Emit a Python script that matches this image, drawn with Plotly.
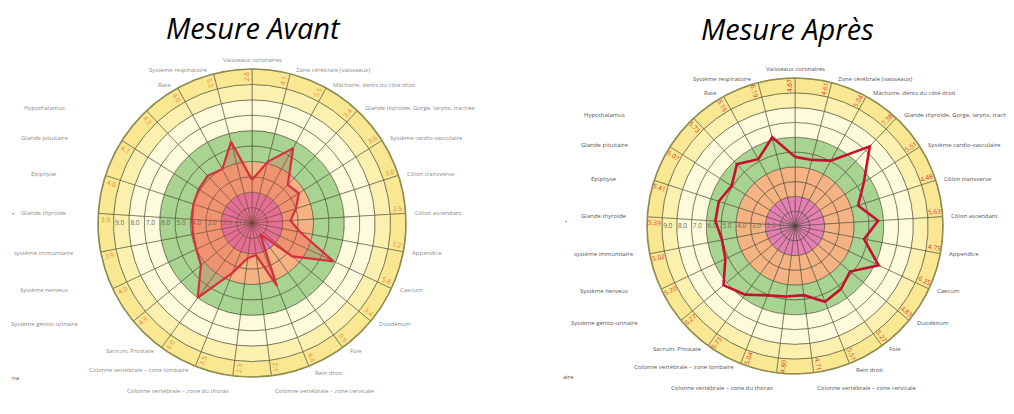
import math
import plotly.graph_objects as go

# page is shown with the browser's default 8px body margin -> figure is 8px smaller
PAGE_W, PAGE_H, OFF = 1014, 414, 8
W, H = PAGE_W - OFF, PAGE_H - OFF

# ---------------- data ----------------
categories = [
    "Vaisseaux coronaires", "Zone cérébrale (vaisseaux)", "Mâchoire, dents du côté droit",
    "Glande thyroïde, Gorge, larynx, trachée", "Système cardio-vasculaire", "Côlon transverse",
    "Côlon ascendant", "Appendice", "Caecum", "Duodénum", "Foie", "Rein droit",
    "Colonne vertébrale – zone cervicale", "Colonne vertébrale – zone du thorax",
    "Colonne vertébrale – zone lombaire", "Sacrum, Prostate", "Système génito-urinaire",
    "Système nerveux", "système immunitaire", "Glande thyroïde", "Épiphyse",
    "Glande pituitaire", "Hypothalamus", "Rate", "Système respiratoire",
]

values_avant = [2.8, 4.1, 5.55, 3.4, 3.6, 3.0, 2.5, 3.2, 5.85, 3.4, 0.9, 4.4,
                2.1, 2.3, 3.5, 6.0, 4.3, 4.0, 3.9, 3.9, 4.0, 4.1, 4.2, 4.0, 5.45]

values_apres = [4.67, 4.61, 5.04, 7.38, 5.51, 4.48, 5.63, 4.75, 6.25, 4.83, 5.27, 5.51,
                4.71, 4.80, 5.04, 5.73, 6.27, 5.20, 5.02, 5.39, 5.41, 5.07, 5.73, 5.15, 6.19]

titles = ["Mesure Avant", "Mesure Après"]

radial_ticks = [1, 2, 3, 4, 5, 6, 7, 8, 9]
radial_ticktext = ["1.0", "2.0", "3.0", "4.0", "5.0", "6.0", "7.0", "8.0", "9.0"]

# one colour per unit ring, from centre (0-1) to edge (9-10)
ring_colors = ["#E67FB4", "#E67FB4", "#F5B282", "#F5B282", "#A9D390", "#A9D390",
               "#FEFADC", "#FEFADC", "#FBF0AE", "#F9E891"]

R_MAX = 10
N = len(categories)
STEP = 360.0 / N
thetas = [i * STEP for i in range(N)]

# ---------------- layout helpers ----------------
panels = [
    dict(name="polar", c=(252, 223), R=154, col_k=1.35,
         values=values_avant, line="#D6303C", lw=2.2, fill="rgba(226,70,70,0.28)",
         lab_color="#8a8a8a", num_fmt="{:.1f}", num_color="#E8803A", title_px=(253, 27)),
    dict(name="polar2", c=(795, 226), R=148, col_k=1.29,
         values=values_apres, line="#C8102E", lw=2.6, fill=None,
         lab_color="#555555", num_fmt="{:.2f}", num_color="#E0352B", title_px=(787, 28)),
]


def px_to_paper(x, y):
    return (x - OFF) / W, 1 - (y - OFF) / H


def domain(p):
    cx, cy = p["c"]
    R = p["R"]
    x0, y1 = px_to_paper(cx - R, cy - R)
    x1, y0 = px_to_paper(cx + R, cy + R)
    return [x0, x1], [y0, y1]


def to_px(p, r, th):
    cx, cy = p["c"]
    R = p["R"]
    a = math.radians(th)
    return cx + r / R_MAX * R * math.sin(a), cy - r / R_MAX * R * math.cos(a)


fig = go.Figure()
annotations = []

for p in panels:
    sp = p["name"]
    # concentric rings drawn as cells -> cell borders form the grid
    for k, col in enumerate(ring_colors):
        fig.add_trace(go.Barpolar(
            r=[1] * N, base=[k] * N,
            theta=[t + STEP / 2 for t in thetas], width=[STEP] * N,
            marker=dict(color=col, line=dict(color="rgba(60,62,40,0.7)", width=0.7)),
            subplot=sp, hoverinfo="skip", showlegend=False))
    # radial tick labels along the left horizontal spoke
    fig.add_trace(go.Scatterpolar(
        r=[t - 0.4 for t in radial_ticks], theta=[270] * len(radial_ticks),
        mode="text", text=radial_ticktext, textposition="middle center",
        textfont=dict(size=6.5, color="#6b6b55", family="Open Sans"),
        subplot=sp, hoverinfo="skip", showlegend=False))
    vals = p["values"]
    fig.add_trace(go.Scatterpolar(
        r=vals + [vals[0]], theta=thetas + [thetas[0]], mode="lines",
        line=dict(color=p["line"], width=p["lw"]),
        fill="toself" if p["fill"] else None, fillcolor=p["fill"],
        subplot=sp, hoverinfo="skip", showlegend=False))
    fig.add_trace(go.Scatterpolar(
        r=[R_MAX * 1.025] * N, theta=thetas, mode="markers", cliponaxis=False,
        marker=dict(size=3.5, color="#3a3a3a"),
        subplot=sp, hoverinfo="skip", showlegend=False))

    cx, cy = p["c"]
    R = p["R"]
    # category labels
    for name, th in zip(categories, thetas):
        dx, dy = to_px(p, R_MAX * 1.025, th)
        xa, xs, ys = "left", 3, 0
        px = dx
        if th == 0:
            xa, xs, ys = "center", 0, 5
        elif th < 180:
            xa, xs = "left", 3
            if th > 165:
                ys = -11
                xs = 1
            elif th > 150:
                ys = -3
        else:
            if 225 <= th < 325:
                xa, xs = "center", 0
                px = cx - p["col_k"] * R
            else:
                xa, xs = "right", -3
                if th < 195:
                    ys = -11
                    xs = 0
        ax, ay = px_to_paper(px, dy)
        annotations.append(dict(
            x=ax, y=ay, xref="paper", yref="paper", text=name,
            showarrow=False, xanchor=xa, yanchor="middle", xshift=xs, yshift=ys,
            font=dict(size=6, color=p["lab_color"], family="Open Sans")))
    # value labels in the outer ring
    for v, th in zip(vals, thetas):
        lx, ly = to_px(p, 9.5, th - 2.2)
        ang = th - 90 if th <= 180 else th - 270
        ax, ay = px_to_paper(lx, ly)
        annotations.append(dict(
            x=ax, y=ay, xref="paper", yref="paper",
            text=p["num_fmt"].format(v), textangle=ang, showarrow=False,
            xanchor="center", yanchor="middle",
            font=dict(size=6.5, color=p["num_color"], family="Open Sans")))

for p, t in zip(panels, titles):
    tx, ty = px_to_paper(*p["title_px"])
    annotations.append(dict(
        x=tx, y=ty, xref="paper", yref="paper", text="<i>" + t + "</i>",
        showarrow=False, xanchor="center", yanchor="middle",
        font=dict(size=29, color="#000000", family="Open Sans")))

# stray cropping remnants visible in the reference
for txt, x, y in [("•", 13, 214), ("na", 15, 378), ("•", 566, 222), ("aire", 568, 377)]:
    ax, ay = px_to_paper(x, y)
    annotations.append(dict(x=ax, y=ay, xref="paper", yref="paper", text=txt,
                            showarrow=False, xanchor="center", yanchor="middle",
                            font=dict(size=6, color="#555", family="Open Sans")))


def polar_layout(p):
    dx, dy = domain(p)
    return dict(
        domain=dict(x=dx, y=dy),
        bgcolor="rgba(0,0,0,0)",
        bargap=0, barmode="overlay",
        angularaxis=dict(rotation=90, direction="clockwise", thetaunit="degrees",
                         showticklabels=False, ticks="", showgrid=False,
                         showline=True, linecolor="#8E8C4E", linewidth=1.6),
        radialaxis=dict(range=[0, R_MAX], showgrid=False, showline=False, ticks="",
                        showticklabels=False),
    )


fig.update_layout(
    width=W, height=H, margin=dict(l=0, r=0, t=0, b=0),
    paper_bgcolor="white", plot_bgcolor="white",
    polar=polar_layout(panels[0]), polar2=polar_layout(panels[1]),
    annotations=annotations, hovermode=False, showlegend=False,
)

fig.write_html("out.html")
